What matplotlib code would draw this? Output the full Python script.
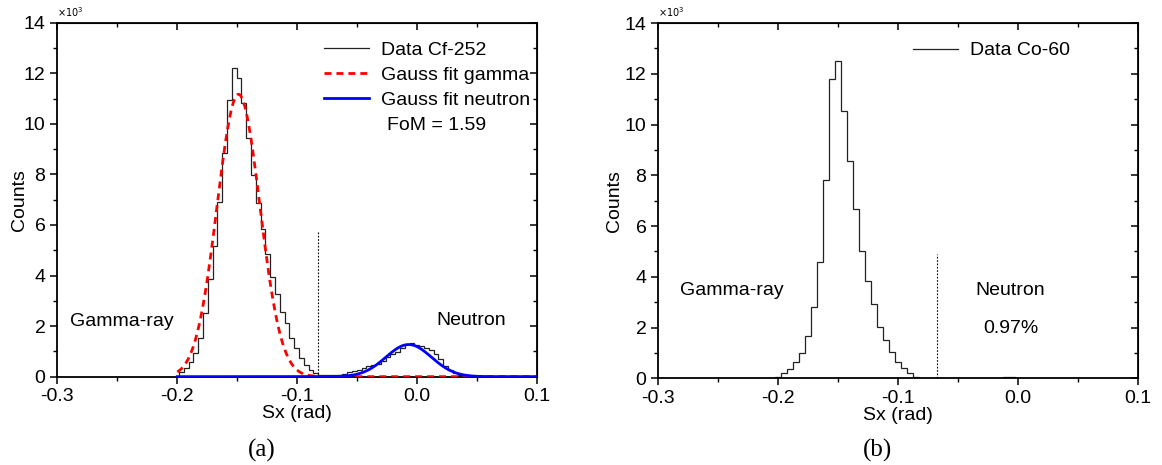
import numpy as np
import matplotlib
matplotlib.use('Agg')
import matplotlib.pyplot as plt
from matplotlib.ticker import MultipleLocator, FuncFormatter

plt.rcParams['font.family'] = ['Liberation Sans', 'DejaVu Sans']

# ---- data (counts in units of 10^3) ----
# (a) Cf-252, bins of 0.004 rad starting at -0.1985
cf_bin_start = -0.1985
cf_bin_width = 0.004
cf_counts = [0.17, 0.36, 0.59, 0.92, 1.54, 2.50, 3.85, 5.18, 6.89, 8.86,
             10.94, 12.23, 11.80, 10.81, 9.43, 7.98, 6.86, 5.84, 4.84, 3.95,
             3.26, 2.57, 2.11, 1.52, 1.12, 0.73, 0.46, 0.26, 0.13, 0.08,
             0.05, 0.05, 0.05, 0.08, 0.12, 0.18, 0.22, 0.28, 0.35, 0.42,
             0.48, 0.52, 0.62, 0.78, 0.88, 0.98, 1.15, 1.28, 1.33, 1.27,
             1.20, 1.15, 1.05, 0.90, 0.70, 0.42, 0.25, 0.15, 0.08, 0.05,
             0.03, 0.02, 0.02, 0.02, 0.02, 0.02, 0.02, 0.02, 0.02, 0.02,
             0.02, 0.02, 0.02, 0.02, 0.02]
# Gauss fits: amplitude, mean, sigma
gamma_fit = (11.17, -0.149, 0.0178)
neutron_fit = (1.27, -0.0072, 0.0190)
fom = '1.59'
cf_cut = -0.083
cf_cut_height = 5.75

# (b) Co-60, bins of 0.005 rad starting at -0.2025
co_bin_start = -0.2025
co_bin_width = 0.005
co_counts = [0.06, 0.20, 0.37, 0.66, 1.01, 1.68, 2.80, 4.60, 7.83, 11.78,
             12.52, 10.52, 8.55, 6.69, 5.03, 3.82, 2.93, 2.01, 1.51, 1.02,
             0.63, 0.39, 0.20, 0.06, 0.0, 0.0, 0.0, 0.0, 0.0, 0.02,
             0.02, 0.02, 0.02, 0.02, 0.02, 0.02, 0.02, 0.02, 0.05, 0.05,
             0.02, 0.02, 0.02, 0.02, 0.0, 0.0, 0.0, 0.0, 0.0, 0.0,
             0.0, 0.0, 0.0, 0.0, 0.0, 0.0, 0.0, 0.0, 0.0, 0.0]
co_cut = -0.068
co_cut_height = 4.9
co_neutron_pct = '0.97%'

FS = 14


def gauss(x, a, mu, s):
    return a * np.exp(-(x - mu) ** 2 / (2 * s ** 2))


def style_axes(ax, ylabelpad):
    ax.set_xlim(-0.3, 0.1)
    ax.set_ylim(0, 14)
    ax.xaxis.set_major_locator(MultipleLocator(0.1))
    ax.xaxis.set_minor_locator(MultipleLocator(0.05))
    ax.yaxis.set_major_locator(MultipleLocator(2))
    ax.yaxis.set_minor_locator(MultipleLocator(1))
    ax.xaxis.set_major_formatter(FuncFormatter(
        lambda v, p: ('%.1f' % v) if abs(v) > 1e-9 else '0.0'))
    ax.tick_params(which='major', direction='out', length=5, width=1.1, labelsize=FS)
    ax.tick_params(which='minor', direction='out', length=3, width=1.0)
    for sp in ax.spines.values():
        sp.set_linewidth(1.3)
    # inward ticks on top and right
    top = ax.secondary_xaxis('top')
    top.xaxis.set_major_locator(MultipleLocator(0.1))
    top.xaxis.set_minor_locator(MultipleLocator(0.05))
    top.tick_params(which='major', direction='in', length=5, width=1.1, labeltop=False)
    top.tick_params(which='minor', direction='in', length=3, width=1.0)
    right = ax.secondary_yaxis('right')
    right.yaxis.set_major_locator(MultipleLocator(2))
    right.yaxis.set_minor_locator(MultipleLocator(1))
    right.tick_params(which='major', direction='in', length=5, width=1.1, labelright=False)
    right.tick_params(which='minor', direction='in', length=3, width=1.0)
    ax.set_xlabel('Sx (rad)', fontsize=FS, labelpad=0)
    ax.set_ylabel('Counts', fontsize=FS, labelpad=ylabelpad)
    ax.text(0.0, 1.012, r'$\times10^3$', transform=ax.transAxes, fontsize=7, va='bottom')


fig = plt.figure(figsize=(11.62, 4.65), dpi=100, facecolor='white')
ax1 = fig.add_axes([0.0493, 0.190, 0.4131, 0.761])
ax2 = fig.add_axes([0.5665, 0.1864, 0.4131, 0.7641])

# ---- (a) ----
cf_edges = cf_bin_start + cf_bin_width * np.arange(len(cf_counts) + 1)
ax1.stairs(cf_counts, cf_edges, color='#222222', linewidth=0.9, label='Data Cf-252')
xf = np.linspace(-0.2, 0.1, 600)
ax1.plot(xf, gauss(xf, *gamma_fit), color='red', linewidth=2, linestyle=(0, (2.5, 1.8)),
         label='Gauss fit gamma', zorder=3)
ax1.plot(xf, gauss(xf, *neutron_fit), color='blue', linewidth=2,
         label='Gauss fit neutron', zorder=4)
ax1.plot([cf_cut, cf_cut], [0, cf_cut_height], color='black', linewidth=0.8,
         linestyle=(0, (1.5, 1.5)))
ax1.legend(loc='upper left', bbox_to_anchor=(0.54, 0.969), frameon=False, fontsize=FS,
           handlelength=2.3, handletextpad=0.6, labelspacing=0.37, borderaxespad=0.0)
ax1.text(-0.0253, 9.95, 'FoM = ' + fom, fontsize=FS, va='center')
ax1.text(-0.2894, 2.2, 'Gamma-ray', fontsize=FS, va='center')
ax1.text(0.0156, 2.24, 'Neutron', fontsize=FS, va='center')
style_axes(ax1, -3)

# ---- (b) ----
co_edges = co_bin_start + co_bin_width * np.arange(len(co_counts) + 1)
ax2.stairs(co_counts, co_edges, color='#222222', linewidth=0.9, label='Data Co-60')
ax2.plot([co_cut, co_cut], [0, co_cut_height], color='black', linewidth=0.8,
         linestyle=(0, (1.5, 1.5)))
ax2.legend(loc='upper left', bbox_to_anchor=(0.515, 0.969), frameon=False, fontsize=FS,
           handlelength=2.3, handletextpad=0.6, borderaxespad=0.0)
ax2.text(-0.282, 3.45, 'Gamma-ray', fontsize=FS, va='center')
ax2.text(-0.036, 3.45, 'Neutron', fontsize=FS, va='center')
ax2.text(-0.0295, 1.98, co_neutron_pct, fontsize=FS, va='center')
style_axes(ax2, 1)

fig.text(262 / 1162, 1 - 450 / 465, '(a)', fontsize=18, family='Liberation Serif',
         ha='center', va='center')
fig.text(877 / 1162, 1 - 450 / 465, '(b)', fontsize=18, family='Liberation Serif',
         ha='center', va='center')

fig.savefig('out.png', dpi=100, facecolor='white')
